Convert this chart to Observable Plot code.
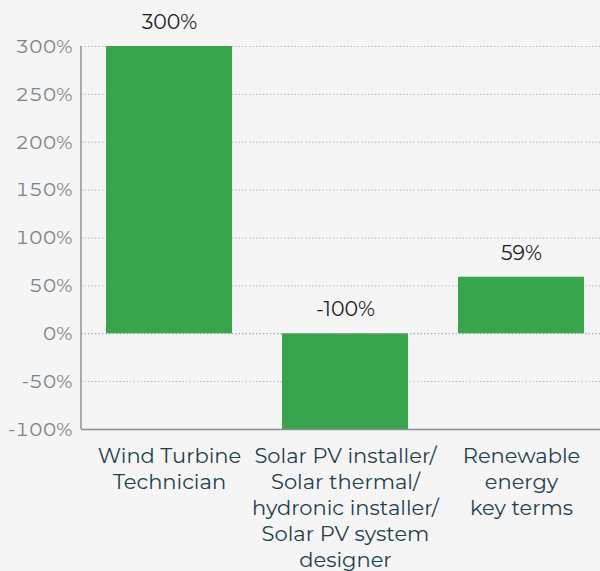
<!DOCTYPE html>
<html>
<head>
<meta charset="utf-8">
<script src="https://cdn.jsdelivr.net/npm/d3@7"></script>
<script src="https://cdn.jsdelivr.net/npm/@observablehq/plot@0.6"></script>
<style>
  html, body { margin: 0; padding: 0; background: #f5f5f5; }
  #chart svg { display: block; }
</style>
</head>
<body>
<div id="chart"></div>
<script>
// Job categories (line breaks as they wrap under the axis)
const categories = [
  "Wind Turbine\nTechnician",
  "Solar PV installer/\nSolar thermal/\nhydronic installer/\nSolar PV system\ndesigner",
  "Renewable\nenergy\nkey terms"
];
// Percentage change per category
const changes = [300, -100, 59];
// Y axis ticks
const yTicks = [-100, -50, 0, 50, 100, 150, 200, 250, 300];

const data = categories.map((c, i) => ({category: c, value: changes[i]}));
const font = "Montserrat, 'Open Sans', Lato, sans-serif";

// Solid axis line along the left edge of the plotting frame
function leftAxisLine(index, scales, values, dim) {
  const x = dim.marginLeft;
  return d3.create("svg:line")
    .attr("x1", x).attr("x2", x)
    .attr("y1", scales.y(300)).attr("y2", scales.y(-100))
    .attr("stroke", "#8a9296").attr("stroke-width", 1.5)
    .node();
}

const chart = Plot.plot({
  width: 600,
  height: 571,
  marginTop: 46,
  marginBottom: 142,
  marginLeft: 81,
  marginRight: 0,
  style: {background: "#f5f5f5", fontFamily: font, overflow: "visible"},
  x: {domain: categories, range: [81, 609], paddingInner: 0.284, paddingOuter: 0.142, label: null},
  y: {domain: [-100, 300], label: null},
  marks: [
    Plot.ruleY(yTicks.filter(d => d !== 0 && d !== -100), {stroke: "#b8b8b8", strokeDasharray: "1.5,2"}),
    Plot.barY(data, {x: "category", y: "value", fill: "#38a44b"}),
    Plot.ruleY([0], {stroke: "#9a9a9a", strokeDasharray: "1.5,2"}),
    Plot.ruleY([-100], {stroke: "#8a9296", strokeWidth: 1.5}),
    leftAxisLine,
    Plot.text(data, {
      x: "category", y: d => Math.max(d.value, 0), text: d => `${d.value}%`,
      dy: -24, fontSize: 20.5, fill: "#1c1c1c"
    }),
    Plot.axisY(yTicks, {
      tickSize: 0, tickPadding: 9, fontSize: 19.5, fill: "#7b8489",
      tickFormat: d => `${d}%`
    }),
    Plot.axisX({
      tickSize: 0, tickPadding: 15, fontSize: 21, fill: "#1f3f4f",
      lineHeight: 1.24, lineAnchor: "top"
    })
  ]
});
document.getElementById("chart").append(chart);
</script>
</body>
</html>
